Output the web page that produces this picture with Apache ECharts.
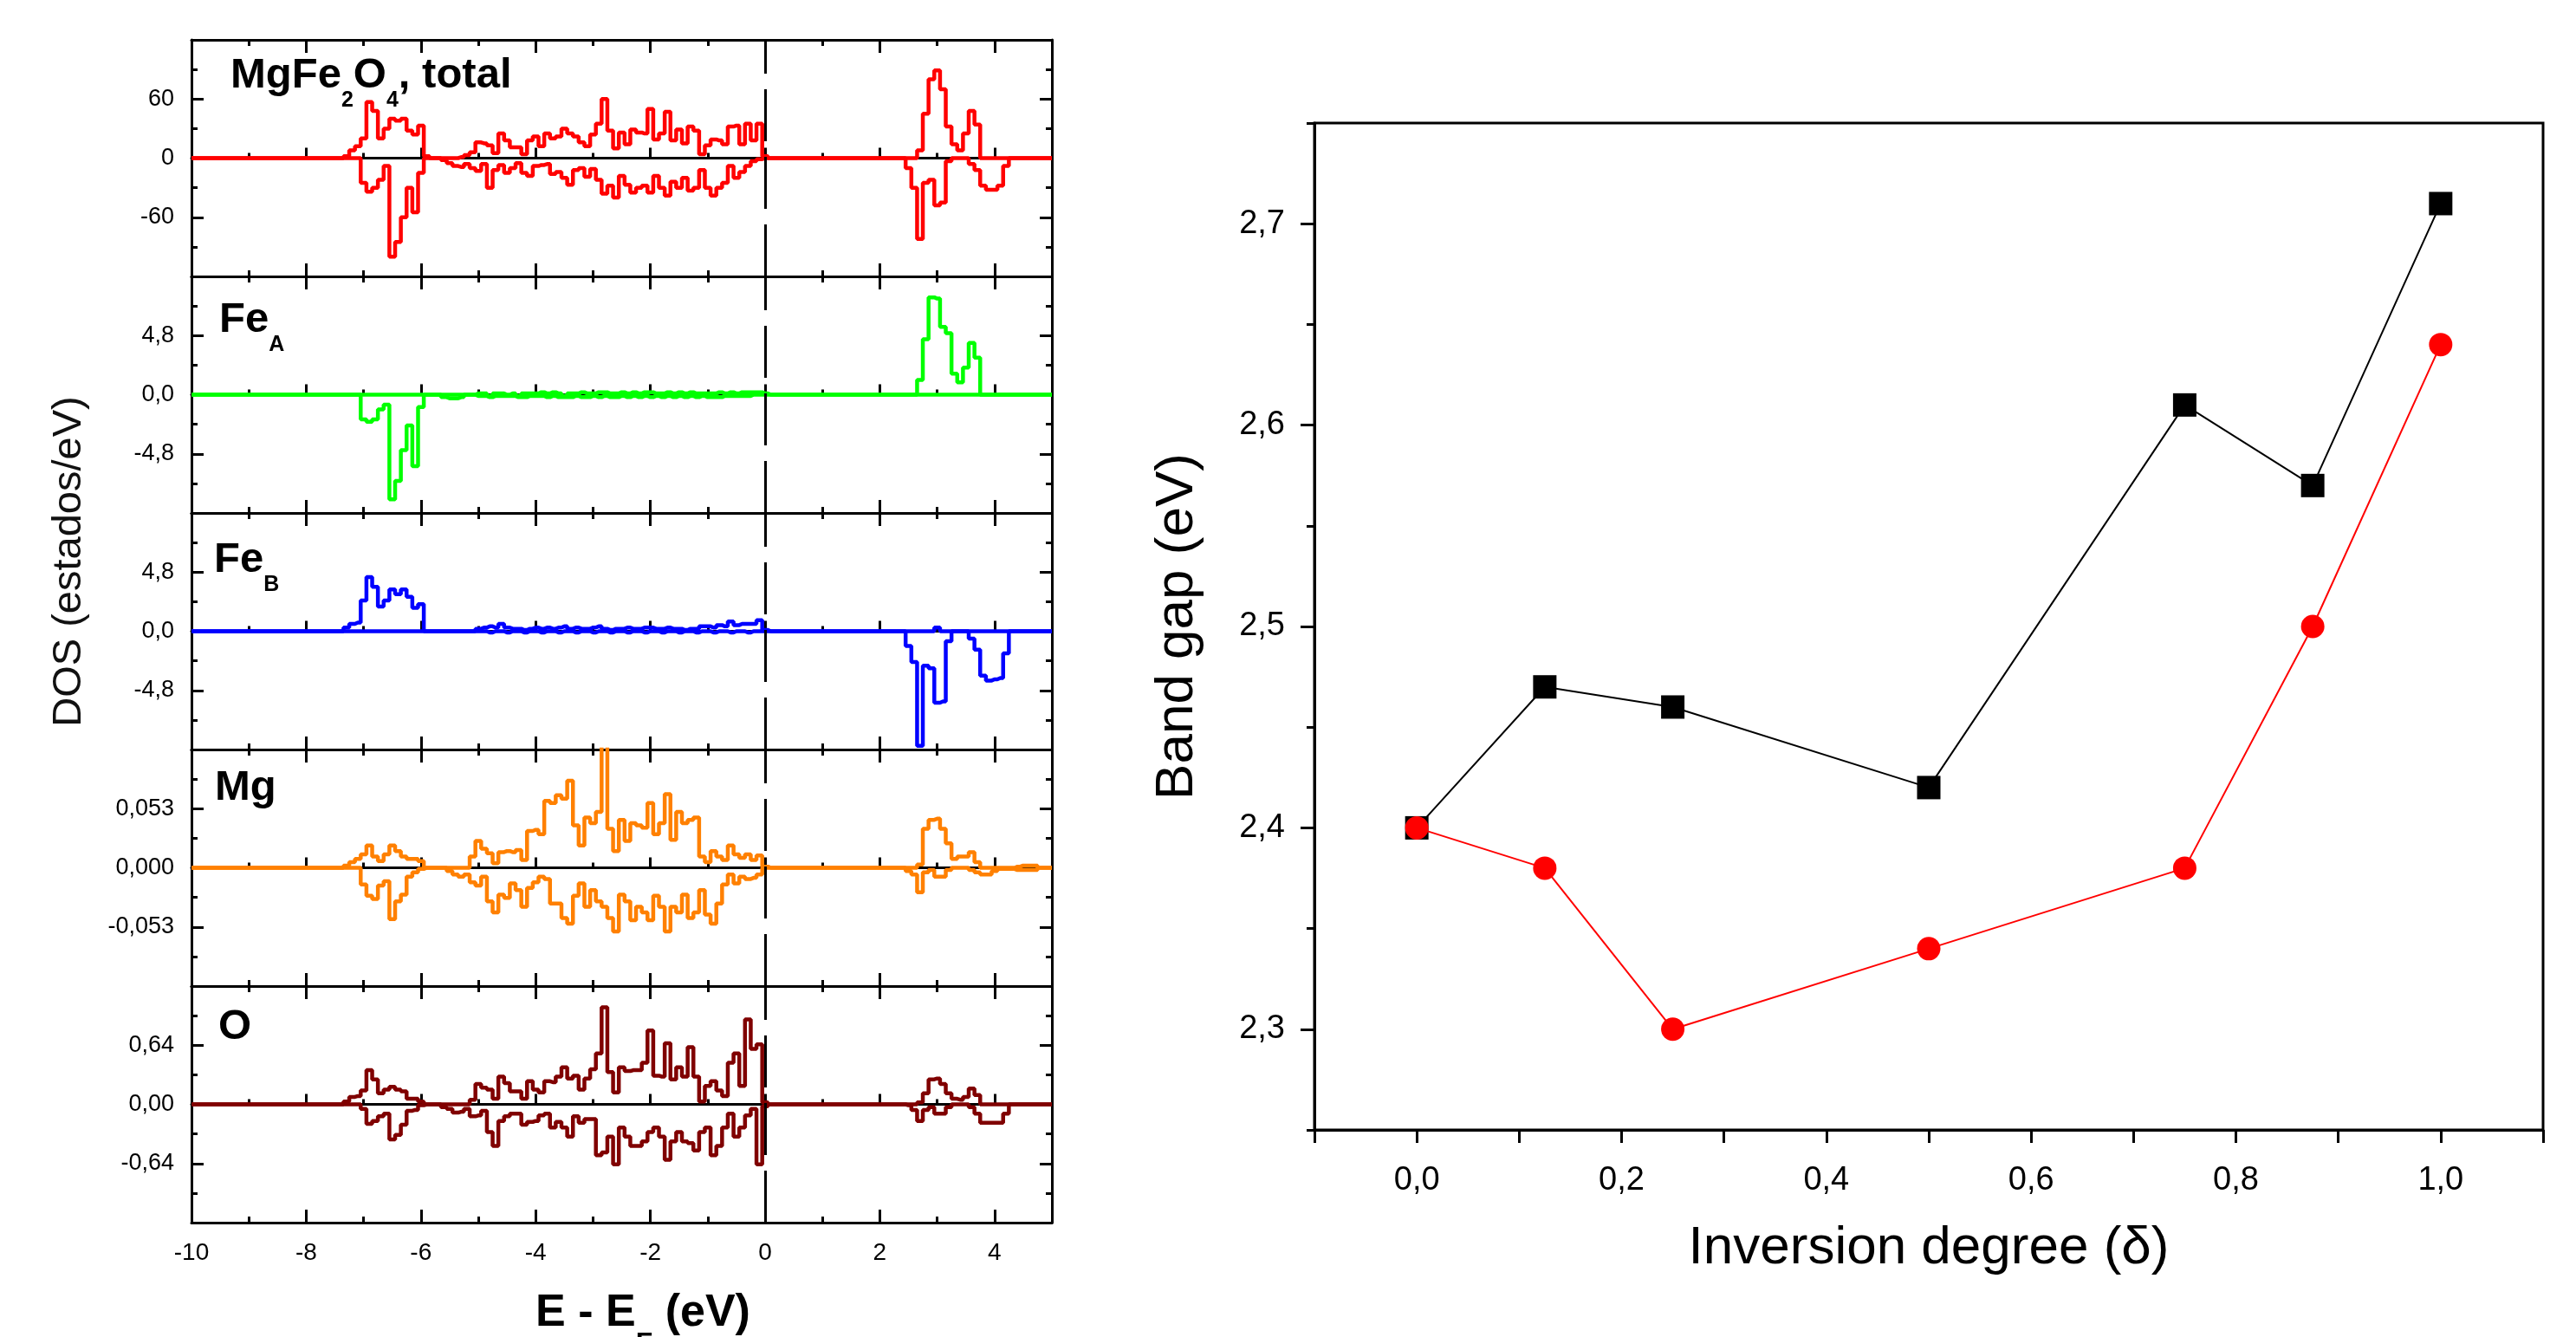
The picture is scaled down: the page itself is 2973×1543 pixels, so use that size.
<!DOCTYPE html>
<html><head><meta charset="utf-8">
<script src="https://cdn.jsdelivr.net/npm/echarts@6/dist/echarts.min.js"></script>
<style>html,body{margin:0;padding:0;background:#fff}#c{width:2973px;height:1543px}</style>
</head><body><div id="c"></div>
<script>
// ---------- energy grids (eV) ----------
const EV = [-7.5,-7.4,-7.3,-7.2,-7.1,-7.0,
 -6.9,-6.8,-6.7,-6.6,-6.5,-6.4,-6.3,-6.2,-6.1,-6.0,
 -5.9,-5.8,-5.7,-5.6,-5.5,-5.4,-5.3,-5.2,-5.1,-5.0,
 -4.9,-4.8,-4.7,-4.6,-4.5,-4.4,-4.3,-4.2,-4.1,-4.0,
 -3.9,-3.8,-3.7,-3.6,-3.5,-3.4,-3.3,-3.2,-3.1,-3.0,
 -2.9,-2.8,-2.7,-2.6,-2.5,-2.4,-2.3,-2.2,-2.1,-2.0,
 -1.9,-1.8,-1.7,-1.6,-1.5,-1.4,-1.3,-1.2,-1.1,-1.0,
 -0.9,-0.8,-0.7,-0.6,-0.5,-0.4,-0.3,-0.2,-0.1,0.0,
 0.1];
const EC = [2.3,2.4,2.5,2.6,2.7,2.8,2.9,3.0,3.1,3.2,3.3,3.4,3.5,3.6,3.7,3.8,3.9,4.0,4.1,4.2,4.3,4.4,4.5];
const E_MIN = -10, E_MAX = 5, EF = 0;

// ---------- MgFe2O4 total ----------
const TOT_UP_V = [0,0,2,8,12,20,
 57,48,20,30,40,38,40,28,24,33,
 2,0,0,0,0,0,1,3,6,16,
 15,13,5,25,18,11,11,4,18,22,
 12,25,20,22,30,25,22,16,12,24,
 35,60,28,10,26,14,29,26,25,50,
 19,25,47,18,29,15,32,28,4,13,
 19,18,14,32,33,14,35,18,35,2,
 0];
const TOT_DN_V = [0,0,0,0,0,-25,
 -34,-30,-22,-8,-100,-85,-60,-30,-55,-15,
 0,0,0,-2,-5,-8,-9,-6,-10,-13,
 -6,-30,-12,-7,-15,-10,-5,-15,-18,-8,
 -7,-6,-16,-14,-20,-27,-12,-10,-19,-11,
 -22,-36,-28,-40,-18,-27,-35,-30,-28,-35,
 -18,-30,-38,-24,-30,-20,-33,-30,-12,-30,
 -38,-30,-25,-8,-20,-14,-8,-3,-1,0,
 0];
const TOT_UP_C = [0,0,0,0,8,45,80,89,70,32,14,8,25,48,34,0,0,0,0,0,0,0,0];
const TOT_DN_C = [0,0,-10,-30,-82,-25,-22,-48,-45,-3,0,0,0,-6,-12,-28,-32,-32,-28,-8,0,0,0];

// ---------- Fe_A ----------
const FEA_UP_V = [0,0,0,0,0,0,
 0,0,0,0,0,0,0,0,0,0,
 0,0,0,0,0,0,0,0,0,0.1,
 0.1,-0.1,0.1,0.1,0,0.1,-0.1,0.1,0.1,0.1,
 0.2,0.1,0.2,0.1,-0.1,0.1,0.1,0.2,0.1,0.1,
 0.2,0.2,0.1,0.1,0.2,0.1,0.2,0.1,0.2,0.2,
 0.1,0.1,0.2,0.1,0.2,0.1,0.2,0.1,0.1,0.1,
 0.1,0.2,0.1,0.2,0.1,0.2,0.2,0.2,0.2,0.1,
 0];
const FEA_DN_V = [0,0,0,0,0,-2.0,
 -2.2,-2.0,-1.2,-0.8,-8.5,-7.0,-4.5,-2.5,-5.8,-1.0,
 0,0,0,-0.2,-0.3,-0.3,-0.2,0,0,-0.1,
 -0.1,-0.2,-0.1,-0.1,-0.1,-0.1,-0.2,-0.2,-0.1,-0.1,
 -0.1,-0.2,-0.1,-0.2,-0.2,-0.2,-0.1,-0.2,-0.2,-0.1,
 -0.2,-0.1,-0.2,-0.2,-0.1,-0.2,-0.1,-0.2,-0.1,-0.2,
 -0.1,-0.2,-0.1,-0.2,-0.1,-0.2,-0.1,-0.2,-0.1,-0.2,
 -0.2,-0.2,-0.1,-0.1,-0.1,-0.1,-0.1,0,0,0,
 0];
const FEA_UP_C = [0,0,0,0,1.2,4.5,7.9,7.8,5.5,5.0,1.7,1.0,2.2,4.2,3.0,0,0,0,0,0,0,0,0];
const FEA_DN_C = [0,0,0,0,0,0,0,0,0,0,0,0,0,0,0,0,0,0,0,0,0,0,0];

// ---------- Fe_B ----------
const FEB_UP_V = [0,0,0.3,0.6,0.7,2.5,
 4.4,3.6,2.0,2.5,3.4,3.0,3.4,2.8,1.9,2.2,
 0,0,0,0,0,0,0,0,0,0.2,
 0.3,0.4,0.3,0.6,0.3,0.2,0.2,0.1,0.2,0.3,
 0.2,0.3,0.2,0.3,0.4,0.2,0.3,0.2,0.2,0.3,
 0.4,0.2,0.1,0.2,0.2,0.3,0.2,0.2,0.3,0.3,
 0.2,0.2,0.3,0.2,0.2,0.1,0.2,0.2,0.4,0.4,
 0.3,0.5,0.4,0.8,0.5,0.6,0.6,0.6,0.9,0.1,
 0];
const FEB_DN_V = [0,0,0,0,0,0,
 0,0,0,0,0,0,0,0,0,0,
 0,0,0,0,0,0,0,0,0,0,
 0,-0.1,0,0,-0.1,0,0,-0.1,0,0,
 -0.1,0,0,-0.1,0,0,-0.1,0,0,-0.1,
 0,0,-0.1,0,0,-0.1,0,0,-0.1,0,
 0,-0.1,0,0,-0.1,0,0,-0.1,0,0,
 -0.1,0,0,-0.1,0,0,-0.1,0,0,0,
 0];
const FEB_UP_C = [0,0,0,0,0,0,0,0.3,0,0,0,0,0,0,0,0,0,0,0,0,0,0,0];
const FEB_DN_C = [0,0,-1.2,-2.5,-9.3,-2.8,-3.0,-5.8,-5.7,-0.8,0,0,0,-0.6,-1.5,-3.6,-4.0,-3.9,-3.8,-1.8,0,0,0];

// ---------- Mg ----------
const MG_UP_V = [0,0,0.002,0.005,0.008,0.012,
 0.020,0.010,0.006,0.012,0.020,0.015,0.010,0.008,0.008,0.006,
 0,0,0,0,0,0,0,0,0.010,0.024,
 0.017,0.013,0.004,0.014,0.015,0.014,0.016,0.007,0.033,0.034,
 0.030,0.060,0.058,0.065,0.062,0.078,0.038,0.020,0.045,0.040,
 0.050,0.110,0.035,0.015,0.043,0.024,0.040,0.038,0.036,0.058,
 0.030,0.040,0.066,0.025,0.050,0.040,0.043,0.045,0.010,0.005,
 0.015,0.010,0.007,0.020,0.012,0.009,0.012,0.007,0.011,0.001,
 0];
const MG_DN_V = [0,0,0,0,0,-0.015,
 -0.025,-0.028,-0.016,-0.012,-0.046,-0.030,-0.024,-0.008,-0.004,-0.001,
 0,0,0,0,-0.003,-0.006,-0.008,-0.006,-0.013,-0.016,
 -0.008,-0.030,-0.040,-0.024,-0.027,-0.014,-0.020,-0.035,-0.018,-0.013,
 -0.008,-0.010,-0.032,-0.032,-0.045,-0.050,-0.025,-0.014,-0.035,-0.020,
 -0.030,-0.035,-0.045,-0.057,-0.024,-0.030,-0.047,-0.035,-0.040,-0.047,
 -0.025,-0.035,-0.057,-0.035,-0.040,-0.024,-0.045,-0.040,-0.020,-0.042,
 -0.050,-0.032,-0.015,-0.006,-0.014,-0.008,-0.010,-0.009,-0.006,0,
 0];
const MG_UP_C = [0,0,0,0,0.003,0.035,0.043,0.044,0.035,0.022,0.008,0.010,0.010,0.014,0.005,0,0,0,0,0,0,0.001,0.002];
const MG_DN_C = [0,0,-0.003,-0.006,-0.022,-0.004,-0.002,-0.008,-0.008,-0.002,0,0,0,-0.002,-0.004,-0.006,-0.006,-0.003,-0.001,-0.001,-0.001,-0.002,-0.002];

// ---------- O ----------
const O_UP_V = [0,0,0.03,0.08,0.09,0.15,
 0.37,0.27,0.12,0.16,0.19,0.16,0.14,0.06,0.06,0.03,
 0,0,0,0,0,0,0,0,0.05,0.22,
 0.18,0.16,0.06,0.30,0.23,0.14,0.14,0.06,0.25,0.16,
 0.13,0.25,0.24,0.30,0.40,0.28,0.31,0.16,0.28,0.38,
 0.55,1.05,0.35,0.13,0.40,0.36,0.37,0.37,0.45,0.80,
 0.31,0.30,0.66,0.27,0.40,0.30,0.62,0.30,0.03,0.20,
 0.25,0.15,0.09,0.45,0.55,0.20,0.92,0.60,0.65,0.02,
 0];
const O_DN_V = [0,0,0,0,0,-0.05,
 -0.21,-0.18,-0.13,-0.10,-0.38,-0.33,-0.22,-0.07,-0.06,-0.01,
 0,0,0,-0.03,-0.05,-0.09,-0.08,-0.05,-0.13,-0.12,
 -0.07,-0.30,-0.45,-0.18,-0.13,-0.10,-0.10,-0.22,-0.19,-0.18,
 -0.12,-0.10,-0.25,-0.19,-0.25,-0.35,-0.13,-0.20,-0.16,-0.16,
 -0.55,-0.52,-0.35,-0.65,-0.25,-0.35,-0.45,-0.45,-0.40,-0.30,
 -0.25,-0.35,-0.60,-0.40,-0.30,-0.40,-0.42,-0.50,-0.30,-0.25,
 -0.55,-0.45,-0.25,-0.10,-0.35,-0.25,-0.12,-0.05,-0.65,-0.02,
 0];
const O_UP_C = [0,0,0,0,0.02,0.12,0.27,0.28,0.22,0.12,0.06,0.05,0.08,0.17,0.10,0,0,0,0,0,0,0,0];
const O_DN_C = [0,0,-0.01,-0.06,-0.18,-0.06,-0.03,-0.10,-0.10,-0.03,0,0,0,-0.03,-0.10,-0.20,-0.20,-0.20,-0.20,-0.10,0,0,0];

// ---------- tick labels ----------
const TOT_LABELS = ['-60','0','60'];
const FE_LABELS = ['-4,8','0,0','4,8'];
const MG_LABELS = ['-0,053','0,000','0,053'];
const O_LABELS = ['-0,64','0,00','0,64'];
const E_LABELS = ['-10','-8','-6','-4','-2','0','2','4'];

// ---------- band gap ----------
const DELTA = [0, 0.125, 0.25, 0.5, 0.75, 0.875, 1.0];
const GAP_BLACK = [2.40, 2.47, 2.46, 2.42, 2.61, 2.57, 2.71];
const GAP_RED = [2.40, 2.38, 2.30, 2.34, 2.38, 2.50, 2.64];
const DELTA_LABELS = ['0,0','0,2','0,4','0,6','0,8','1,0'];
const GAP_LABELS = ['2,3','2,4','2,5','2,6','2,7'];
const GAP_MAJOR = [2.3, 2.4, 2.5, 2.6, 2.7];
const GAP_MINOR = [2.25, 2.35, 2.45, 2.55, 2.65, 2.75];

// ---------- build ----------
function curve(v, c) {
  const d = [[E_MIN, 0]];
  EV.forEach((e, i) => d.push([e, v[i]]));
  EC.forEach((e, i) => d.push([e, c[i]]));
  d.push([E_MAX, 0]);
  return d;
}
const panels = [
  {up: curve(TOT_UP_V, TOT_UP_C), dn: curve(TOT_DN_V, TOT_DN_C), R: 120, labels: TOT_LABELS, color: '#ff0000'},
  {up: curve(FEA_UP_V, FEA_UP_C), dn: curve(FEA_DN_V, FEA_DN_C), R: 9.6, labels: FE_LABELS, color: '#00ff00'},
  {up: curve(FEB_UP_V, FEB_UP_C), dn: curve(FEB_DN_V, FEB_DN_C), R: 9.6, labels: FE_LABELS, color: '#0000ff'},
  {up: curve(MG_UP_V, MG_UP_C), dn: curve(MG_DN_V, MG_DN_C), R: 0.106, labels: MG_LABELS, color: '#ff8000'},
  {up: curve(O_UP_V, O_UP_C), dn: curve(O_DN_V, O_DN_C), R: 1.28, labels: O_LABELS, color: '#800000'}
];

const FONT = 'Liberation Sans, Arial, Helvetica, sans-serif';
const BLK = '#000';
const grids = [], xAxes = [], yAxes = [], series = [];
const P_TOP = 46, P_H = 273, P_LEFT = 221, P_W = 993;

panels.forEach((p, i) => {
  grids.push({left: P_LEFT, top: P_TOP + i * P_H, width: P_W, height: P_H, containLabel: false});
  const common = {gridIndex: i, type: 'value', min: E_MIN, max: E_MAX, interval: 2,
    splitLine: {show: false}, minorSplitLine: {show: false}};
  const line = {lineStyle: {color: BLK, width: 3}};
  xAxes.push(Object.assign({}, common, {position: 'bottom',
    axisLine: Object.assign({onZero: false}, line),
    axisTick: {show: true, inside: true, length: 15, lineStyle: {color: BLK, width: 3}},
    minorTick: {show: true, splitNumber: 2, length: 7, lineStyle: {color: BLK, width: 3}},
    axisLabel: {show: i === panels.length - 1, fontSize: 28, color: BLK, margin: 21, fontFamily: FONT,
      formatter: v => { const k = Math.round((v - E_MIN) / 2); return (Math.abs(v - (E_MIN + 2 * k)) < 1e-6 && k >= 0 && k < E_LABELS.length) ? E_LABELS[k] : ''; }}
  }));
  xAxes.push(Object.assign({}, common, {position: 'top',
    axisLine: Object.assign({onZero: false}, line),
    axisTick: {show: true, inside: true, length: 15, lineStyle: {color: BLK, width: 3}},
    minorTick: {show: true, splitNumber: 2, length: 7, lineStyle: {color: BLK, width: 3}},
    axisLabel: {show: false}
  }));
  xAxes.push(Object.assign({}, common, {position: 'bottom',
    axisLine: {onZero: true, lineStyle: {color: BLK, width: 3}},
    axisTick: {show: true, inside: true, length: 12, lineStyle: {color: BLK, width: 3}},
    minorTick: {show: true, splitNumber: 2, length: 6, lineStyle: {color: BLK, width: 3}},
    axisLabel: {show: false}
  }));
  const step = p.R / 2;
  const yc = {gridIndex: i, type: 'value', min: -p.R, max: p.R, interval: step,
    splitLine: {show: false}, minorSplitLine: {show: false},
    axisTick: {show: true, inside: true, length: 14, lineStyle: {color: BLK, width: 3}},
    minorTick: {show: true, splitNumber: 2, length: 7, lineStyle: {color: BLK, width: 3}}};
  yAxes.push(Object.assign({}, yc, {position: 'left',
    axisLine: {show: true, onZero: false, lineStyle: {color: BLK, width: 3}},
    axisLabel: {show: true, fontSize: 27, color: BLK, margin: 20, fontFamily: FONT,
      formatter: v => { const k = Math.round(v / step); return (Math.abs(v - k * step) < step * 1e-3 && k >= -1 && k <= 1) ? p.labels[k + 1] : ''; }}
  }));
  yAxes.push(Object.assign({}, yc, {position: 'right',
    axisLine: {show: true, onZero: false, lineStyle: {color: BLK, width: 3}},
    axisLabel: {show: false}
  }));
  const s = {type: 'line', xAxisIndex: 3 * i, yAxisIndex: 2 * i, symbol: 'none', showSymbol: false, step: 'middle',
    lineStyle: {color: p.color, width: 4.5}, itemStyle: {color: p.color}, animation: false, silent: true, z: 3};
  series.push(Object.assign({}, s, {data: p.up,
    markLine: {silent: true, symbol: ['none', 'none'], label: {show: false}, animation: false,
      lineStyle: {color: BLK, width: 3, type: [60, 18]}, data: [{xAxis: EF}]}}));
  series.push(Object.assign({}, s, {data: p.dn}));
});

// right chart
grids.push({left: 1517, top: 142, right: 38, bottom: 239, show: true, borderColor: BLK, borderWidth: 3, backgroundColor: 'transparent'});
const gi = panels.length;
xAxes.push({gridIndex: gi, type: 'value', min: -0.1, max: 1.1, interval: 0.1, position: 'bottom',
  name: 'Inversion degree (\u03b4)', nameLocation: 'middle', nameGap: 106,
  nameTextStyle: {fontSize: 62, color: BLK, fontFamily: FONT},
  axisLine: {onZero: false, lineStyle: {color: BLK, width: 3}},
  axisTick: {show: true, inside: false, length: 15, lineStyle: {color: BLK, width: 3}},
  splitLine: {show: false},
  axisLabel: {fontSize: 38, color: BLK, margin: 40, fontFamily: FONT,
    formatter: v => { const k = Math.round(v * 10); return (Math.abs(v * 10 - k) < 1e-6 && k >= 0 && k <= 10 && k % 2 === 0) ? DELTA_LABELS[k / 2] : ''; }}
});
yAxes.push({gridIndex: gi, type: 'value', min: 2.25, max: 2.75, interval: 0.05, position: 'left',
  name: 'Band gap (eV)', nameLocation: 'middle', nameGap: 127,
  nameTextStyle: {fontSize: 62, color: BLK, fontFamily: FONT},
  axisLine: {show: true, onZero: false, lineStyle: {color: BLK, width: 3}},
  axisTick: {show: true, inside: false, length: 16, customValues: GAP_MAJOR, lineStyle: {color: BLK, width: 3}},
  splitLine: {show: false},
  axisLabel: {fontSize: 38, color: BLK, margin: 34, fontFamily: FONT, customValues: GAP_MAJOR,
    formatter: v => { const k = Math.round(v * 100); return (k % 10 === 0 && k >= 230 && k <= 270) ? GAP_LABELS[(k - 230) / 10] : ''; }}
});
yAxes.push({gridIndex: gi, type: 'value', min: 2.25, max: 2.75, interval: 0.05, position: 'left', offset: 0,
  axisLine: {show: false, onZero: false},
  axisTick: {show: true, inside: false, length: 9, customValues: GAP_MINOR, lineStyle: {color: BLK, width: 3}},
  splitLine: {show: false}, axisLabel: {show: false}
});
const gx = xAxes.length - 1, gy = yAxes.length - 2;
series.push({type: 'line', xAxisIndex: gx, yAxisIndex: gy, data: DELTA.map((d, i) => [d, GAP_BLACK[i]]),
  symbol: 'rect', symbolSize: 27, lineStyle: {color: BLK, width: 2}, itemStyle: {color: BLK}, animation: false, z: 3});
series.push({type: 'line', xAxisIndex: gx, yAxisIndex: gy, data: DELTA.map((d, i) => [d, GAP_RED[i]]),
  symbol: 'circle', symbolSize: 27, lineStyle: {color: '#ff0000', width: 2}, itemStyle: {color: '#ff0000'}, animation: false, z: 4});

// panel titles (rich text with subscripts)
function title(x, top, text) {
  return {type: 'text', x: x, y: top, silent: true, z: 10,
    style: {text: text, align: 'left', verticalAlign: 'top', fill: BLK,
      font: 'bold 49px ' + FONT,
      rich: {
        a: {fontSize: 49, fontWeight: 'bold', fontFamily: FONT, fill: BLK, lineHeight: 84},
        s: {fontSize: 25, fontWeight: 'bold', fontFamily: FONT, fill: BLK, lineHeight: 25, verticalAlign: 'bottom'}
      }}};
}
const graphics = [
  title(266, 45, '{a|MgFe}{s|2}{a|O}{s|4}{a|, total}'),
  title(253, 327, '{a|Fe}{s|A}'),
  title(247, 604, '{a|Fe}{s|B}'),
  title(248, 867, '{a|Mg}'),
  title(252, 1143, '{a|O}'),
  {type: 'text', x: 80, y: 648, rotation: Math.PI / 2, silent: true,
    style: {text: 'DOS (estados/eV)', align: 'center', verticalAlign: 'middle', fill: '#111', font: '47px ' + FONT}},
  {type: 'text', x: 742, y: 1465, silent: true,
    style: {text: '{a|E - E}{s|F}{a| (eV)}', align: 'center', verticalAlign: 'top', fill: BLK, font: 'bold 52px ' + FONT,
      rich: {
        a: {fontSize: 52, fontWeight: 'bold', fontFamily: FONT, fill: BLK, lineHeight: 102},
        s: {fontSize: 32, fontWeight: 'bold', fontFamily: FONT, fill: BLK, lineHeight: 32, verticalAlign: 'bottom'}
      }}}
];

const chart = echarts.init(document.getElementById('c'), null, {renderer: 'canvas', width: 2973, height: 1543});
chart.setOption({
  animation: false,
  backgroundColor: '#fff',
  grid: grids, xAxis: xAxes, yAxis: yAxes, series: series, graphic: graphics
});
</script>
</body></html>
